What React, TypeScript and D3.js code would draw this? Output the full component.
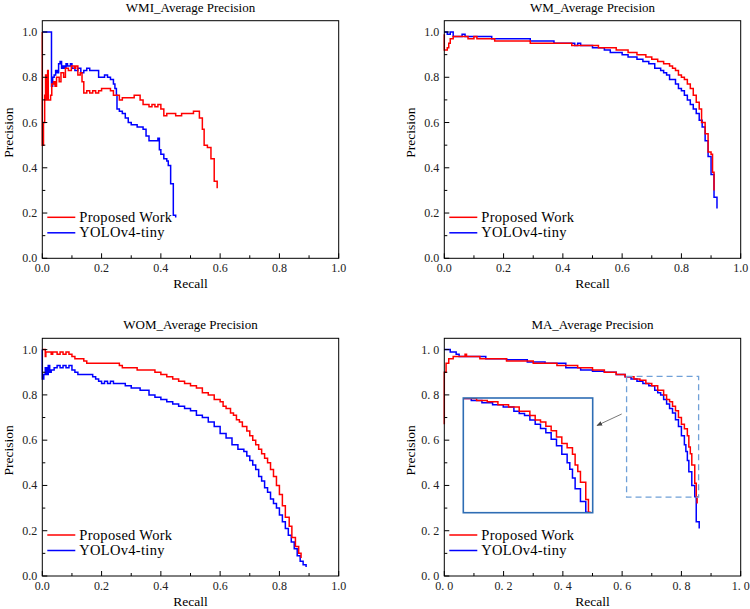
import React from 'react'
import * as d3 from 'd3'

type Pt = [number, number]

// recall, precision pairs
const wmiProposed: Pt[] = [[0, 1.0], [0, 0.5], [0.004, 0.6], [0.008, 0.72], [0.011, 0.81], [0.013, 0.7], [0.018, 0.83], [0.02, 0.7], [0.028, 0.72], [0.032, 0.77], [0.038, 0.78], [0.043, 0.76], [0.048, 0.8], [0.057, 0.78], [0.063, 0.82], [0.072, 0.8], [0.078, 0.84], [0.088, 0.83], [0.098, 0.85], [0.108, 0.84], [0.113, 0.85], [0.12, 0.81], [0.128, 0.82], [0.134, 0.78], [0.14, 0.73], [0.15, 0.74], [0.16, 0.73], [0.17, 0.74], [0.18, 0.73], [0.19, 0.74], [0.2, 0.75], [0.22, 0.75], [0.23, 0.74], [0.24, 0.72], [0.25, 0.72], [0.26, 0.7], [0.27, 0.71], [0.3, 0.71], [0.31, 0.72], [0.32, 0.72], [0.33, 0.7], [0.34, 0.68], [0.36, 0.67], [0.37, 0.68], [0.38, 0.67], [0.39, 0.68], [0.4, 0.66], [0.41, 0.63], [0.42, 0.64], [0.44, 0.64], [0.45, 0.63], [0.47, 0.64], [0.5, 0.64], [0.51, 0.65], [0.52, 0.65], [0.53, 0.62], [0.54, 0.57], [0.546, 0.5], [0.557, 0.49], [0.569, 0.44], [0.58, 0.34], [0.59, 0.31]]
const wmiYolo: Pt[] = [[0, 1.0], [0.031, 0.76], [0.035, 0.8], [0.04, 0.81], [0.045, 0.83], [0.05, 0.82], [0.055, 0.86], [0.06, 0.87], [0.065, 0.84], [0.07, 0.85], [0.075, 0.84], [0.08, 0.86], [0.085, 0.85], [0.095, 0.86], [0.1, 0.84], [0.11, 0.83], [0.12, 0.84], [0.13, 0.82], [0.14, 0.83], [0.15, 0.84], [0.16, 0.83], [0.18, 0.83], [0.19, 0.8], [0.2, 0.8], [0.21, 0.81], [0.22, 0.8], [0.23, 0.79], [0.24, 0.77], [0.245, 0.75], [0.25, 0.72], [0.252, 0.66], [0.26, 0.65], [0.27, 0.64], [0.28, 0.62], [0.29, 0.6], [0.3, 0.59], [0.32, 0.58], [0.34, 0.57], [0.35, 0.54], [0.36, 0.52], [0.38, 0.52], [0.39, 0.53], [0.395, 0.48], [0.4, 0.46], [0.41, 0.44], [0.42, 0.43], [0.425, 0.41], [0.433, 0.33], [0.442, 0.19], [0.45, 0.18]]

const wmProposed: Pt[] = [[0, 0.99], [0, 0.92], [0.01, 0.93], [0.015, 0.95], [0.02, 0.97], [0.03, 0.98], [0.08, 0.97], [0.1, 0.98], [0.11, 0.97], [0.17, 0.96], [0.29, 0.95], [0.43, 0.94], [0.52, 0.93], [0.58, 0.92], [0.62, 0.91], [0.65, 0.9], [0.68, 0.89], [0.7, 0.88], [0.72, 0.87], [0.74, 0.86], [0.76, 0.85], [0.77, 0.84], [0.78, 0.83], [0.79, 0.81], [0.8, 0.8], [0.81, 0.79], [0.82, 0.77], [0.83, 0.75], [0.84, 0.72], [0.85, 0.69], [0.86, 0.66], [0.868, 0.6], [0.88, 0.55], [0.89, 0.47], [0.9, 0.46], [0.905, 0.38], [0.91, 0.3]]
const wmYolo: Pt[] = [[0, 1.0], [0.01, 0.99], [0.02, 1.0], [0.03, 0.98], [0.06, 0.99], [0.07, 0.98], [0.16, 0.97], [0.29, 0.96], [0.37, 0.95], [0.44, 0.94], [0.45, 0.95], [0.46, 0.94], [0.5, 0.93], [0.54, 0.92], [0.56, 0.91], [0.58, 0.91], [0.6, 0.9], [0.62, 0.89], [0.65, 0.88], [0.67, 0.87], [0.69, 0.86], [0.71, 0.84], [0.73, 0.83], [0.74, 0.82], [0.75, 0.81], [0.76, 0.79], [0.78, 0.77], [0.79, 0.75], [0.8, 0.74], [0.81, 0.72], [0.82, 0.7], [0.83, 0.68], [0.84, 0.66], [0.85, 0.64], [0.86, 0.61], [0.87, 0.58], [0.88, 0.52], [0.89, 0.45], [0.9, 0.37], [0.91, 0.27], [0.92, 0.22]]

const womProposed: Pt[] = [[0, 1.0], [0.01, 0.97], [0.012, 0.99], [0.03, 0.98], [0.035, 0.99], [0.05, 0.98], [0.06, 0.99], [0.07, 0.98], [0.08, 0.99], [0.09, 0.98], [0.1, 0.97], [0.11, 0.96], [0.14, 0.95], [0.15, 0.94], [0.25, 0.94], [0.26, 0.93], [0.27, 0.92], [0.3, 0.92], [0.32, 0.91], [0.37, 0.91], [0.38, 0.9], [0.4, 0.89], [0.42, 0.88], [0.44, 0.87], [0.46, 0.86], [0.48, 0.85], [0.5, 0.84], [0.52, 0.83], [0.54, 0.81], [0.56, 0.8], [0.58, 0.78], [0.6, 0.77], [0.61, 0.75], [0.62, 0.74], [0.635, 0.72], [0.645, 0.71], [0.655, 0.69], [0.665, 0.68], [0.675, 0.66], [0.69, 0.64], [0.7, 0.62], [0.71, 0.6], [0.72, 0.58], [0.73, 0.56], [0.74, 0.54], [0.75, 0.52], [0.76, 0.5], [0.77, 0.47], [0.78, 0.44], [0.79, 0.4], [0.8, 0.36], [0.81, 0.31], [0.82, 0.26], [0.833, 0.22], [0.842, 0.17], [0.854, 0.13], [0.865, 0.1], [0.873, 0.08]]
const womYolo: Pt[] = [[0, 1.0], [0, 0.87], [0.005, 0.89], [0.01, 0.92], [0.015, 0.89], [0.02, 0.93], [0.025, 0.9], [0.03, 0.91], [0.04, 0.92], [0.05, 0.93], [0.06, 0.92], [0.07, 0.93], [0.08, 0.92], [0.09, 0.93], [0.1, 0.91], [0.11, 0.9], [0.12, 0.89], [0.15, 0.89], [0.17, 0.88], [0.18, 0.87], [0.19, 0.86], [0.2, 0.85], [0.21, 0.86], [0.22, 0.85], [0.23, 0.86], [0.24, 0.85], [0.27, 0.85], [0.28, 0.84], [0.3, 0.83], [0.33, 0.82], [0.36, 0.8], [0.38, 0.79], [0.4, 0.78], [0.42, 0.77], [0.44, 0.76], [0.46, 0.75], [0.48, 0.74], [0.5, 0.73], [0.52, 0.71], [0.54, 0.7], [0.56, 0.68], [0.58, 0.66], [0.6, 0.63], [0.62, 0.61], [0.64, 0.58], [0.66, 0.56], [0.68, 0.55], [0.69, 0.53], [0.7, 0.51], [0.71, 0.49], [0.72, 0.47], [0.73, 0.44], [0.74, 0.42], [0.75, 0.39], [0.76, 0.37], [0.77, 0.34], [0.78, 0.32], [0.79, 0.3], [0.8, 0.27], [0.81, 0.24], [0.82, 0.21], [0.83, 0.18], [0.84, 0.15], [0.85, 0.12], [0.86, 0.09], [0.87, 0.065], [0.88, 0.05], [0.89, 0.04]]

const maProposed: Pt[] = [[0, 0.67], [0, 0.9], [0.006, 0.94], [0.015, 0.96], [0.03, 0.97], [0.07, 0.98], [0.075, 0.97], [0.12, 0.96], [0.21, 0.95], [0.3, 0.94], [0.38, 0.93], [0.45, 0.92], [0.5, 0.91], [0.54, 0.9], [0.58, 0.89], [0.61, 0.88], [0.64, 0.87], [0.66, 0.865], [0.68, 0.85], [0.7, 0.84], [0.72, 0.82], [0.74, 0.8], [0.75, 0.78], [0.76, 0.77], [0.77, 0.75], [0.78, 0.73], [0.79, 0.7], [0.8, 0.67], [0.81, 0.65], [0.82, 0.62], [0.825, 0.57], [0.83, 0.54], [0.835, 0.49], [0.845, 0.41], [0.85, 0.35], [0.853, 0.32]]
const maYolo: Pt[] = [[0, 1.0], [0.02, 0.99], [0.04, 0.98], [0.05, 0.97], [0.14, 0.96], [0.21, 0.955], [0.28, 0.945], [0.34, 0.94], [0.41, 0.92], [0.46, 0.91], [0.5, 0.905], [0.54, 0.9], [0.58, 0.89], [0.61, 0.88], [0.63, 0.87], [0.65, 0.86], [0.67, 0.85], [0.69, 0.84], [0.71, 0.82], [0.72, 0.81], [0.73, 0.8], [0.74, 0.78], [0.75, 0.76], [0.76, 0.74], [0.77, 0.72], [0.78, 0.69], [0.79, 0.66], [0.8, 0.62], [0.81, 0.58], [0.815, 0.55], [0.82, 0.51], [0.825, 0.46], [0.835, 0.4], [0.845, 0.35], [0.85, 0.24], [0.86, 0.21]]

const majorTicks = [0, 0.2, 0.4, 0.6, 0.8, 1.0]
const minorTicks = [0.1, 0.3, 0.5, 0.7, 0.9]
const legendNames = ['Proposed Work', 'YOLOv4-tiny']

// zoomed window for the MA inset
const zoomRecall: [number, number] = [0.615, 0.858]
const zoomPrecision: [number, number] = [0.348, 0.882]

const RED = '#ff0000'
const BLUE = '#0000ff'
const serif = { fontFamily: "'Liberation Serif', 'Times New Roman', 'DejaVu Serif', serif" }

const Panel = ({ title, proposed, yolo, left, right, top, bottom, fmt, children }: any) => {
    const x = d3.scaleLinear().domain([0, 1]).range([left, right])
    const y = d3.scaleLinear().domain([0, 1.05]).range([bottom, top])
    const line = d3.line<Pt>().x(d => x(d[0])).y(d => y(d[1])).curve(d3.curveStepAfter)
    const cx = (left + right) / 2

    return (
        <g style={serif}>
            <text x={cx} y={top - 9} textAnchor="middle" fontSize={13}>{title}</text>
            <path d={line(yolo) || ''} fill="none" stroke={BLUE} strokeWidth={1.5} />
            <path d={line(proposed) || ''} fill="none" stroke={RED} strokeWidth={1.5} />
            <rect x={left} y={top} width={right - left} height={bottom - top} fill="none" stroke="#000" strokeWidth={1} />

            {/* ticks point inward */}
            {majorTicks.map(t => (
                <g key={'mx' + t}>
                    <line x1={x(t)} x2={x(t)} y1={bottom} y2={bottom - 5} stroke="#000" />
                    <text x={x(t)} y={bottom + 14} textAnchor="middle" fontSize={12} fill="#222">{fmt(t)}</text>
                    <line x1={left} x2={left + 5} y1={y(t)} y2={y(t)} stroke="#000" />
                    <text x={left - 5} y={y(t) + 4} textAnchor="end" fontSize={12} fill="#222">{fmt(t)}</text>
                </g>
            ))}
            {minorTicks.map(t => (
                <g key={'mn' + t}>
                    <line x1={x(t)} x2={x(t)} y1={bottom} y2={bottom - 3} stroke="#000" />
                    <line x1={left} x2={left + 3} y1={y(t)} y2={y(t)} stroke="#000" />
                </g>
            ))}

            <text x={cx} y={bottom + 30} textAnchor="middle" fontSize={13.5}>Recall</text>
            <text transform={`translate(${left - 29},${top + 112}) rotate(-90)`} textAnchor="middle" fontSize={13.5}>Precision</text>

            {/* legend */}
            {legendNames.map((name, i) => {
                const ly = bottom - 41 + i * 15.5
                return (
                    <g key={name}>
                        <line x1={left + 5} x2={left + 33} y1={ly} y2={ly} stroke={i === 0 ? RED : BLUE} strokeWidth={1.5} />
                        <text x={left + 37} y={ly + 4.5} fontSize={14.5} letterSpacing={0.3}>{name}</text>
                    </g>
                )
            })}
            {children && children(x, y)}
        </g>
    )
}

const Inset = ({ x, y }: any) => {
    const box = { left: 463.3, right: 592.7, top: 398, bottom: 512.7 }
    const ix = d3.scaleLinear().domain(zoomRecall).range([box.left, box.right])
    const iy = d3.scaleLinear().domain(zoomPrecision).range([box.bottom, box.top])
    const line = d3.line<Pt>().x(d => ix(d[0])).y(d => iy(d[1])).curve(d3.curveStepAfter)
    return (
        <g>
            <defs>
                <clipPath id="insetClip">
                    <rect x={box.left} y={box.top} width={box.right - box.left} height={box.bottom - box.top} />
                </clipPath>
                <marker id="arrowHead" viewBox="0 0 10 10" refX="9" refY="5" markerWidth="7" markerHeight="7" orient="auto">
                    <path d="M0,1 L10,5 L0,9 Z" fill="#444" />
                </marker>
            </defs>
            <rect x={x(zoomRecall[0])} y={y(zoomPrecision[1])} width={x(zoomRecall[1]) - x(zoomRecall[0])}
                height={y(zoomPrecision[0]) - y(zoomPrecision[1])} fill="none" stroke="#6fa0d8" strokeWidth={1.3} strokeDasharray="6,4" />
            <g clipPath="url(#insetClip)">
                <path d={line(maYolo) || ''} fill="none" stroke={BLUE} strokeWidth={1.5} />
                <path d={line(maProposed) || ''} fill="none" stroke={RED} strokeWidth={1.5} />
            </g>
            <rect x={box.left} y={box.top} width={box.right - box.left} height={box.bottom - box.top} fill="none" stroke="#2e6db4" strokeWidth={1.6} />
            <line x1={621.7} y1={414} x2={597} y2={425.5} stroke="#555" strokeWidth={0.8} markerEnd="url(#arrowHead)" />
        </g>
    )
}

const f1 = d3.format('.1f')
const fSpaced = (d: number) => d.toFixed(1).replace('.', '. ')

export default function App() {
    return (
        <svg width={750} height={609} style={{ position: 'absolute', left: 0, top: 0, background: '#fff' }}>
            <rect width={750} height={609} fill="#fff" />
            <Panel title="WMI_Average Precision" proposed={wmiProposed} yolo={wmiYolo}
                left={42.3} right={338.7} top={20.7} bottom={258.3} fmt={f1} />
            <Panel title="WM_Average Precision" proposed={wmProposed} yolo={wmYolo}
                left={444.3} right={740.7} top={20.7} bottom={258.3} fmt={f1} />
            <Panel title="WOM_Average Precision" proposed={womProposed} yolo={womYolo}
                left={42.3} right={338.7} top={338.3} bottom={576} fmt={f1} />
            <Panel title="MA_Average Precision" proposed={maProposed} yolo={maYolo}
                left={444.3} right={740.7} top={338.3} bottom={576} fmt={fSpaced}>
                {(x: any, y: any) => <Inset x={x} y={y} />}
            </Panel>
        </svg>
    )
}
